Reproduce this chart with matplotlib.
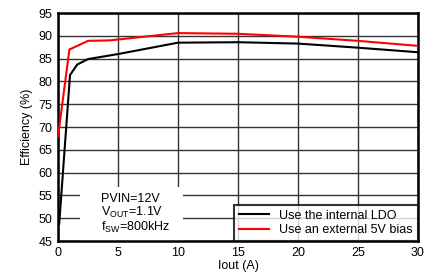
import numpy as np
import matplotlib
matplotlib.use("Agg")
import matplotlib.pyplot as plt
from matplotlib.patches import Rectangle

plt.rcParams['font.family'] = ['Liberation Sans', 'DejaVu Sans']

# efficiency curves
iout_ldo = [0.1, 1.0, 1.6, 2.5, 5, 10, 15, 20, 25, 30]
eff_ldo = [48.8, 81.4, 83.7, 84.9, 86.0, 88.5, 88.6, 88.3, 87.4, 86.4]
iout_ext = [0.0, 0.95, 2.5, 4.3, 10, 15, 20, 25, 30]
eff_ext = [67.9, 87.0, 88.9, 89.0, 90.6, 90.45, 89.8, 88.9, 87.8]

fig = plt.figure(figsize=(4.25, 2.75), dpi=100)
ax = fig.add_axes([0.1365, 0.1236, 0.847, 0.829])

ax.plot(iout_ldo, eff_ldo, color='black', lw=1.5, label='Use the internal LDO', zorder=3)
ax.plot(iout_ext, eff_ext, color='#ff0000', lw=1.5, label='Use an external 5V bias', zorder=3)

ax.set_xlim(0, 30)
ax.set_ylim(45, 95)
ax.set_xticks(np.arange(0, 31, 5))
ax.set_yticks(np.arange(45, 96, 5))
ax.grid(True, color='#333333', lw=1.0)
ax.tick_params(length=0, labelsize=9, pad=4)
for s in ax.spines.values():
    s.set_linewidth(1.8)

ax.set_xlabel('Iout (A)', fontsize=9, labelpad=1)
ax.set_ylabel('Efficiency (%)', fontsize=9, labelpad=4)

# white patch behind the conditions text
ax.add_patch(Rectangle((1.85, 45), 8.55, 11.8, facecolor='white', edgecolor='none', zorder=2.5))
ax.text(3.6, 55.6, 'PVIN=12V\nV$_{\\mathregular{OUT}}$=1.1V\nf$_{\\mathregular{SW}}$=800kHz',
        fontsize=9, va='top', ha='left', linespacing=1.0, zorder=4)

leg = ax.legend(loc='lower right', fontsize=9, frameon=True, fancybox=False,
                borderaxespad=0, handlelength=2.4, borderpad=0.4, labelspacing=0.2)
leg.get_frame().set_edgecolor('black')
leg.get_frame().set_linewidth(1.5)
leg.set_zorder(5)

fig.savefig('out.png', dpi=100)
